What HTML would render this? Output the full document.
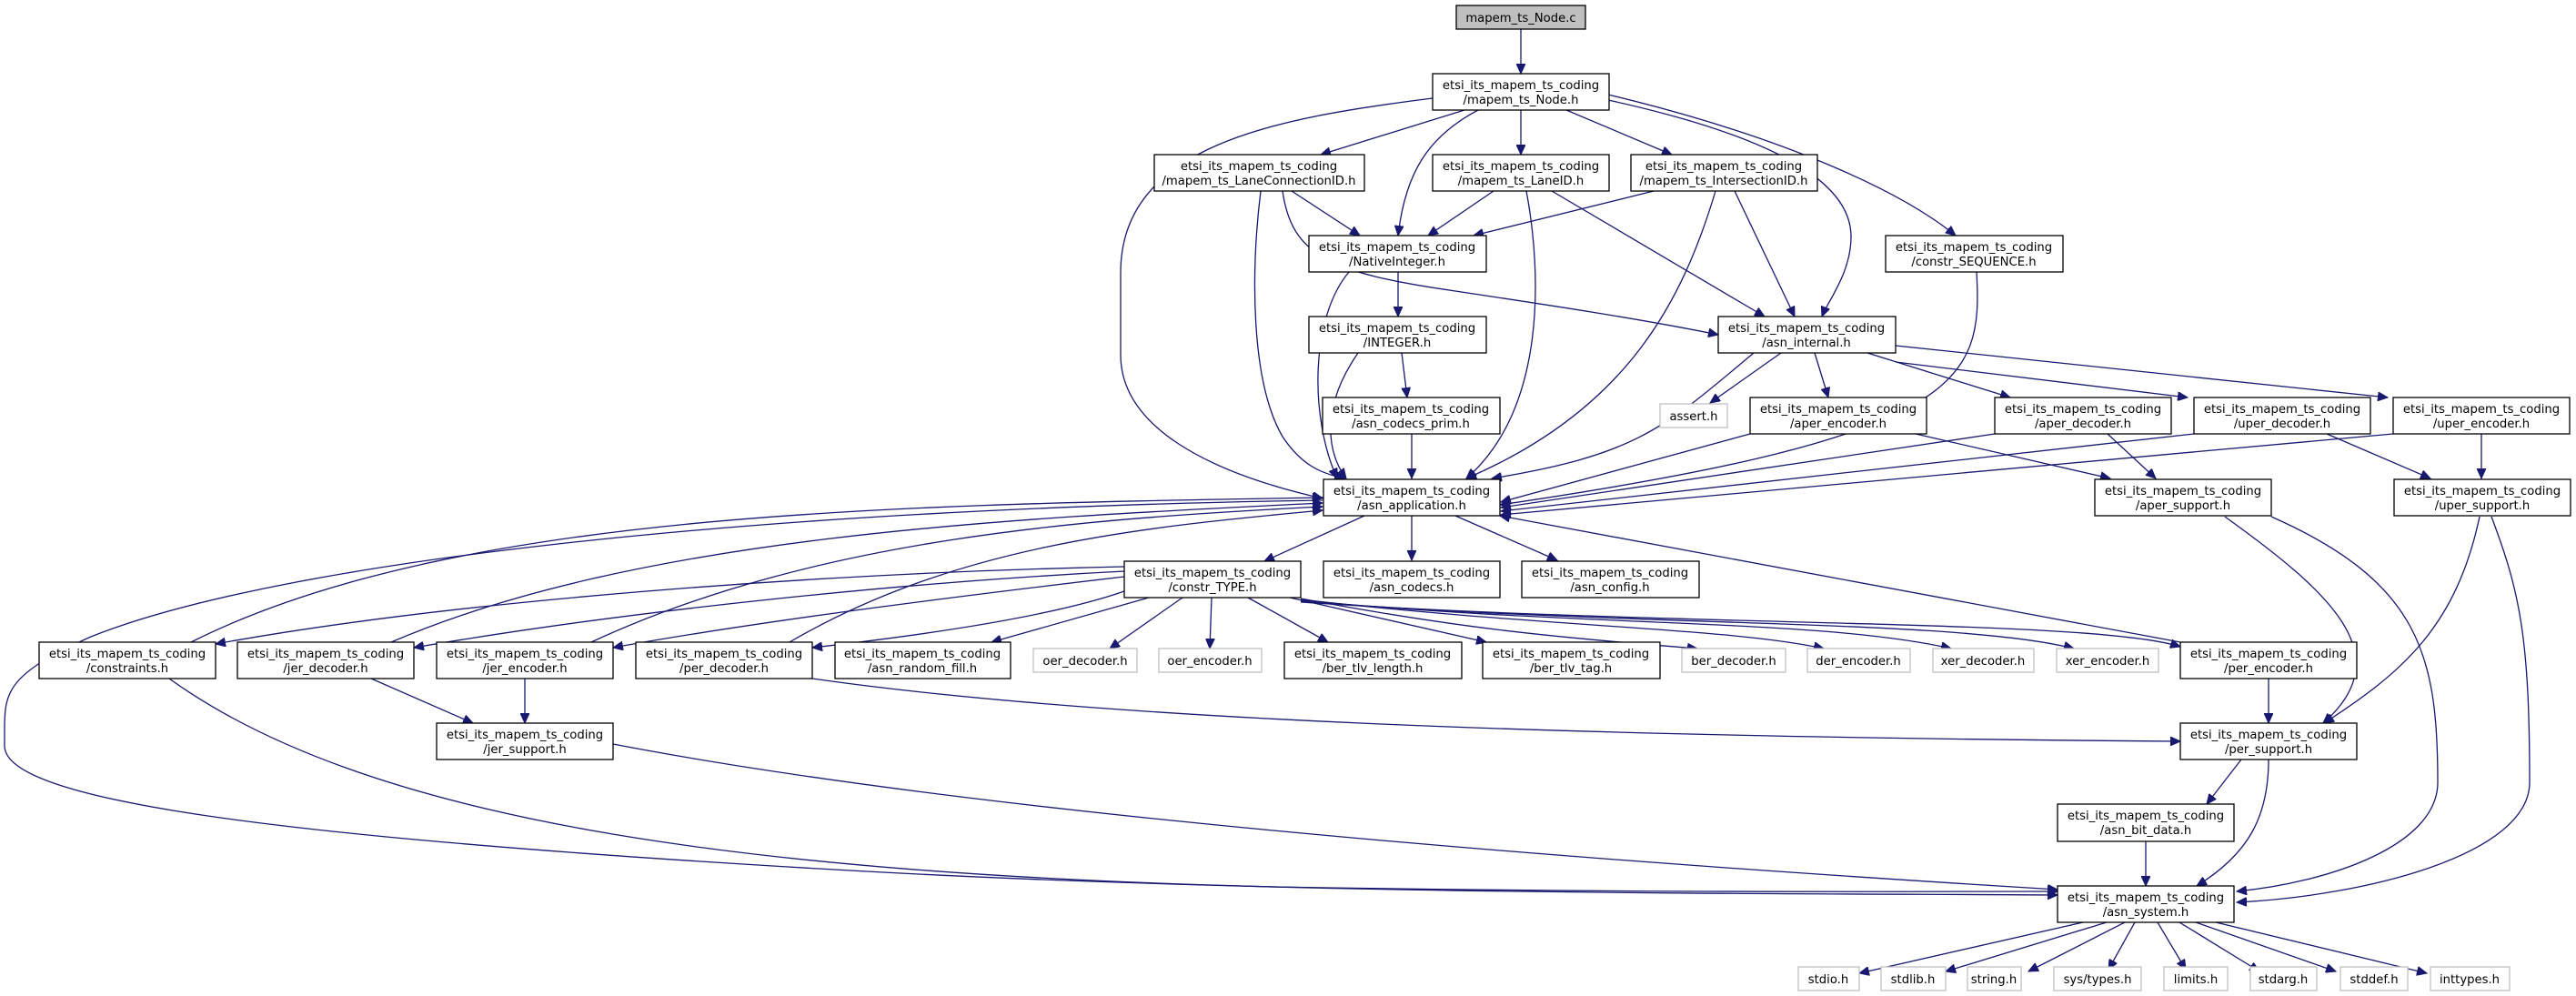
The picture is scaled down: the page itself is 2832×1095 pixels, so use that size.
<!DOCTYPE html>
<html><head><meta charset="utf-8"><style>
html,body{margin:0;padding:0;background:#fff;}
svg{display:block;}
text{font-family:"DejaVu Sans","Liberation Sans",sans-serif;font-size:13.2px;fill:#000;text-anchor:middle;}
.n{fill:#fff;stroke:#000;stroke-width:1.3;}
.g{fill:#fff;stroke:#bfbfbf;stroke-width:1.3;}
.e{fill:none;stroke:#191970;stroke-width:1.3;}
</style></head><body>
<svg width="2832" height="1095" viewBox="0 0 2832 1095" xmlns="http://www.w3.org/2000/svg">
<defs>
<marker id="a" markerWidth="12" markerHeight="10" refX="11" refY="5" orient="auto" markerUnits="userSpaceOnUse">
<path d="M0,0 L11,5 L0,10 z" fill="#191970" stroke="#191970"/>
</marker>
</defs>
<g marker-end="url(#a)">
<!-- top -->
<path class="e" d="M1672,32 L1672,81"/>
<path class="e" d="M1610,121 L1452,170"/>
<path class="e" d="M1672,121 L1672,170"/>
<path class="e" d="M1722,121 L1838,170"/>
<path class="e" d="M1625,121 C1570,150 1545,190 1537,259"/>
<path class="e" d="M1575,108 C1400,130 1232,160 1232,300 L1232,390 C1232,470 1330,520 1454,548"/>
<path class="e" d="M1768,110 C1950,150 2035,200 2035,260 C2035,300 2010,330 2003,348"/>
<path class="e" d="M1768,104 C1960,150 2090,210 2150,259"/>
<!-- second row -->
<path class="e" d="M1420,210 L1495,259"/>
<path class="e" d="M1410,210 C1420,280 1460,300 1600,320 C1700,335 1800,350 1889,368"/>
<path class="e" d="M1386,210 C1375,300 1375,420 1410,480 C1430,510 1450,520 1478,526"/>
<path class="e" d="M1642,210 L1570,259"/>
<path class="e" d="M1706,210 L1940,348"/>
<path class="e" d="M1678,210 C1695,300 1700,450 1612,526"/>
<path class="e" d="M1818,210 L1620,259"/>
<path class="e" d="M1907,210 L1973,348"/>
<path class="e" d="M1886,210 C1850,330 1790,450 1612,526"/>
<path class="e" d="M1537,299 L1537,348"/>
<path class="e" d="M1483,299 C1440,350 1440,460 1470,526"/>
<path class="e" d="M1541,388 L1547,437"/>
<path class="e" d="M1493,388 C1450,450 1460,500 1480,526"/>
<path class="e" d="M1552,477 L1552,526"/>
<path class="e" d="M2173,299 C2180,420 2160,480 1649,555"/>
<!-- asn_internal -->
<path class="e" d="M1958,388 L1880,443"/>
<path class="e" d="M1995,388 L2010,437"/>
<path class="e" d="M2053,388 L2210,437"/>
<path class="e" d="M2084,398 L2405,437"/>
<path class="e" d="M2084,380 L2625,437"/>
<path class="e" d="M1928,388 C1830,470 1800,500 1640,526"/>
<path class="e" d="M1924,477 L1650,552"/>
<path class="e" d="M2106,477 L2320,526"/>
<path class="e" d="M2193,477 L1650,558"/>
<path class="e" d="M2317,477 L2370,526"/>
<path class="e" d="M2412,477 L1650,562"/>
<path class="e" d="M2558,477 L2672,526"/>
<path class="e" d="M2631,477 L1650,566"/>
<path class="e" d="M2728,477 L2728,526"/>
<!-- supports -->
<path class="e" d="M2446,568 C2560,650 2640,720 2554,795"/>
<path class="e" d="M2497,568 C2660,640 2680,720 2680,860 C2680,930 2560,970 2459,980"/>
<path class="e" d="M2726,568 C2700,690 2640,740 2555,795"/>
<path class="e" d="M2739,568 C2770,650 2781,700 2781,860 C2781,940 2600,985 2459,992"/>
<!-- asn_application -->
<path class="e" d="M1500,567 L1390,617"/>
<path class="e" d="M1552,567 L1552,616"/>
<path class="e" d="M1600,567 L1712,616"/>
<path class="e" d="M1454,550 C800,560 300,620 100,700 C10,740 5,760 5,800 L5,820 C5,880 300,920 900,955 C1400,985 2000,982 2262,984"/>
<!-- back to asn_application -->
<path class="e" d="M210,706 C500,560 1000,555 1454,547"/>
<path class="e" d="M430,706 C700,590 1100,570 1454,553"/>
<path class="e" d="M650,706 C900,590 1200,570 1454,557"/>
<path class="e" d="M868,706 C1050,600 1250,580 1454,561"/>
<path class="e" d="M2397,706 L1649,567"/>
<!-- constr_TYPE fan -->
<path class="e" d="M1236,623 C900,630 500,660 237,708"/>
<path class="e" d="M1236,628 C1000,640 700,670 455,712"/>
<path class="e" d="M1236,634 C1100,650 850,680 674,712"/>
<path class="e" d="M1236,650 C1150,680 1000,700 893,712"/>
<path class="e" d="M1263,657 L1090,706"/>
<path class="e" d="M1300,657 L1220,713"/>
<path class="e" d="M1332,657 L1330,713"/>
<path class="e" d="M1372,657 L1460,706"/>
<path class="e" d="M1418,657 L1634,706"/>
<path class="e" d="M1430,658 C1600,690 1700,700 1866,713"/>
<path class="e" d="M1430,659 C1700,690 1900,690 2005,713"/>
<path class="e" d="M1430,660 C1750,690 2000,680 2145,713"/>
<path class="e" d="M1430,661 C1800,690 2150,680 2280,713"/>
<path class="e" d="M1430,662 C1850,690 2300,680 2397,711"/>
<!-- lower left -->
<path class="e" d="M186,746 C400,900 800,960 1400,975 C1800,982 2100,980 2262,980"/>
<path class="e" d="M408,746 L520,795"/>
<path class="e" d="M577,746 L577,795"/>
<path class="e" d="M674,818 C1100,900 1800,950 2262,978"/>
<path class="e" d="M893,746 C1200,790 1700,810 2397,815"/>
<path class="e" d="M2494,746 L2494,795"/>
<path class="e" d="M2464,835 L2426,884"/>
<path class="e" d="M2494,835 C2494,900 2470,940 2415,974"/>
<path class="e" d="M2359,925 L2359,974"/>
<!-- asn_system bottom -->
<path class="e" d="M2290,1014 L2044,1070"/>
<path class="e" d="M2316,1014 L2139,1068"/>
<path class="e" d="M2336,1014 L2230,1068"/>
<path class="e" d="M2347,1014 L2318,1066"/>
<path class="e" d="M2372,1014 L2403,1066"/>
<path class="e" d="M2396,1014 L2484,1068"/>
<path class="e" d="M2414,1014 L2568,1068"/>
<path class="e" d="M2436,1014 L2668,1070"/>
</g>

<!-- nodes -->
<rect x="1601" y="6" width="142" height="26" fill="#bfbfbf" stroke="#000" stroke-width="1.3"/><text x="1672" y="24">mapem_ts_Node.c</text>

<rect class="n" x="1575" y="81" width="194" height="40"/><text x="1672" y="98">etsi_its_mapem_ts_coding</text><text x="1672" y="114">/mapem_ts_Node.h</text>

<rect class="n" x="1269" y="170" width="231" height="40"/><text x="1384" y="187">etsi_its_mapem_ts_coding</text><text x="1384" y="203">/mapem_ts_LaneConnectionID.h</text>
<rect class="n" x="1575" y="170" width="194" height="40"/><text x="1672" y="187">etsi_its_mapem_ts_coding</text><text x="1672" y="203">/mapem_ts_LaneID.h</text>
<rect class="n" x="1793" y="170" width="205" height="40"/><text x="1895" y="187">etsi_its_mapem_ts_coding</text><text x="1895" y="203">/mapem_ts_IntersectionID.h</text>

<rect class="n" x="1439" y="259" width="195" height="40"/><text x="1536" y="276">etsi_its_mapem_ts_coding</text><text x="1536" y="292">/NativeInteger.h</text>
<rect class="n" x="2073" y="259" width="195" height="40"/><text x="2170" y="276">etsi_its_mapem_ts_coding</text><text x="2170" y="292">/constr_SEQUENCE.h</text>

<rect class="n" x="1439" y="348" width="195" height="40"/><text x="1536" y="365">etsi_its_mapem_ts_coding</text><text x="1536" y="381">/INTEGER.h</text>
<rect class="n" x="1889" y="348" width="195" height="40"/><text x="1986" y="365">etsi_its_mapem_ts_coding</text><text x="1986" y="381">/asn_internal.h</text>

<rect class="n" x="1454" y="437" width="195" height="40"/><text x="1551" y="454">etsi_its_mapem_ts_coding</text><text x="1551" y="470">/asn_codecs_prim.h</text>
<rect class="g" x="1825" y="444" width="74" height="26"/><text x="1862" y="462">assert.h</text>
<rect class="n" x="1924" y="437" width="194" height="40"/><text x="2021" y="454">etsi_its_mapem_ts_coding</text><text x="2021" y="470">/aper_encoder.h</text>
<rect class="n" x="2193" y="437" width="194" height="40"/><text x="2290" y="454">etsi_its_mapem_ts_coding</text><text x="2290" y="470">/aper_decoder.h</text>
<rect class="n" x="2412" y="437" width="194" height="40"/><text x="2509" y="454">etsi_its_mapem_ts_coding</text><text x="2509" y="470">/uper_decoder.h</text>
<rect class="n" x="2631" y="437" width="194" height="40"/><text x="2728" y="454">etsi_its_mapem_ts_coding</text><text x="2728" y="470">/uper_encoder.h</text>

<rect class="n" x="1455" y="527" width="194" height="40"/><text x="1552" y="544">etsi_its_mapem_ts_coding</text><text x="1552" y="560">/asn_application.h</text>
<rect class="n" x="2303" y="527" width="194" height="40"/><text x="2400" y="544">etsi_its_mapem_ts_coding</text><text x="2400" y="560">/aper_support.h</text>
<rect class="n" x="2632" y="527" width="194" height="40"/><text x="2729" y="544">etsi_its_mapem_ts_coding</text><text x="2729" y="560">/uper_support.h</text>

<rect class="n" x="1236" y="617" width="194" height="40"/><text x="1333" y="634">etsi_its_mapem_ts_coding</text><text x="1333" y="650">/constr_TYPE.h</text>
<rect class="n" x="1455" y="617" width="194" height="40"/><text x="1552" y="634">etsi_its_mapem_ts_coding</text><text x="1552" y="650">/asn_codecs.h</text>
<rect class="n" x="1673" y="617" width="195" height="40"/><text x="1770" y="634">etsi_its_mapem_ts_coding</text><text x="1770" y="650">/asn_config.h</text>

<rect class="n" x="43" y="706" width="194" height="40"/><text x="140" y="723">etsi_its_mapem_ts_coding</text><text x="140" y="739">/constraints.h</text>
<rect class="n" x="261" y="706" width="194" height="40"/><text x="358" y="723">etsi_its_mapem_ts_coding</text><text x="358" y="739">/jer_decoder.h</text>
<rect class="n" x="480" y="706" width="194" height="40"/><text x="577" y="723">etsi_its_mapem_ts_coding</text><text x="577" y="739">/jer_encoder.h</text>
<rect class="n" x="699" y="706" width="194" height="40"/><text x="796" y="723">etsi_its_mapem_ts_coding</text><text x="796" y="739">/per_decoder.h</text>
<rect class="n" x="918" y="706" width="193" height="40"/><text x="1014" y="723">etsi_its_mapem_ts_coding</text><text x="1014" y="739">/asn_random_fill.h</text>
<rect class="g" x="1136" y="713" width="114" height="26"/><text x="1193" y="731">oer_decoder.h</text>
<rect class="g" x="1274" y="713" width="113" height="26"/><text x="1330" y="731">oer_encoder.h</text>
<rect class="n" x="1412" y="706" width="195" height="40"/><text x="1509" y="723">etsi_its_mapem_ts_coding</text><text x="1509" y="739">/ber_tlv_length.h</text>
<rect class="n" x="1630" y="706" width="195" height="40"/><text x="1727" y="723">etsi_its_mapem_ts_coding</text><text x="1727" y="739">/ber_tlv_tag.h</text>
<rect class="g" x="1849" y="713" width="114" height="26"/><text x="1906" y="731">ber_decoder.h</text>
<rect class="g" x="1987" y="713" width="113" height="26"/><text x="2043" y="731">der_encoder.h</text>
<rect class="g" x="2125" y="713" width="111" height="26"/><text x="2180" y="731">xer_decoder.h</text>
<rect class="g" x="2261" y="713" width="112" height="26"/><text x="2317" y="731">xer_encoder.h</text>
<rect class="n" x="2397" y="706" width="194" height="40"/><text x="2494" y="723">etsi_its_mapem_ts_coding</text><text x="2494" y="739">/per_encoder.h</text>

<rect class="n" x="480" y="795" width="194" height="40"/><text x="577" y="812">etsi_its_mapem_ts_coding</text><text x="577" y="828">/jer_support.h</text>
<rect class="n" x="2397" y="795" width="194" height="40"/><text x="2494" y="812">etsi_its_mapem_ts_coding</text><text x="2494" y="828">/per_support.h</text>

<rect class="n" x="2262" y="884" width="194" height="41"/><text x="2359" y="901">etsi_its_mapem_ts_coding</text><text x="2359" y="917">/asn_bit_data.h</text>
<rect class="n" x="2262" y="974" width="194" height="40"/><text x="2359" y="991">etsi_its_mapem_ts_coding</text><text x="2359" y="1007">/asn_system.h</text>

<rect class="g" x="1977" y="1063" width="67" height="26"/><text x="2010" y="1081">stdio.h</text>
<rect class="g" x="2068" y="1063" width="71" height="26"/><text x="2103" y="1081">stdlib.h</text>
<rect class="g" x="2163" y="1063" width="59" height="26"/><text x="2192" y="1081">string.h</text>
<rect class="g" x="2258" y="1063" width="96" height="26"/><text x="2306" y="1081">sys/types.h</text>
<rect class="g" x="2379" y="1063" width="70" height="26"/><text x="2414" y="1081">limits.h</text>
<rect class="g" x="2474" y="1063" width="73" height="26"/><text x="2510" y="1081">stdarg.h</text>
<rect class="g" x="2573" y="1063" width="74" height="26"/><text x="2610" y="1081">stddef.h</text>
<rect class="g" x="2672" y="1063" width="87" height="26"/><text x="2715" y="1081">inttypes.h</text>
</svg>
</body></html>
